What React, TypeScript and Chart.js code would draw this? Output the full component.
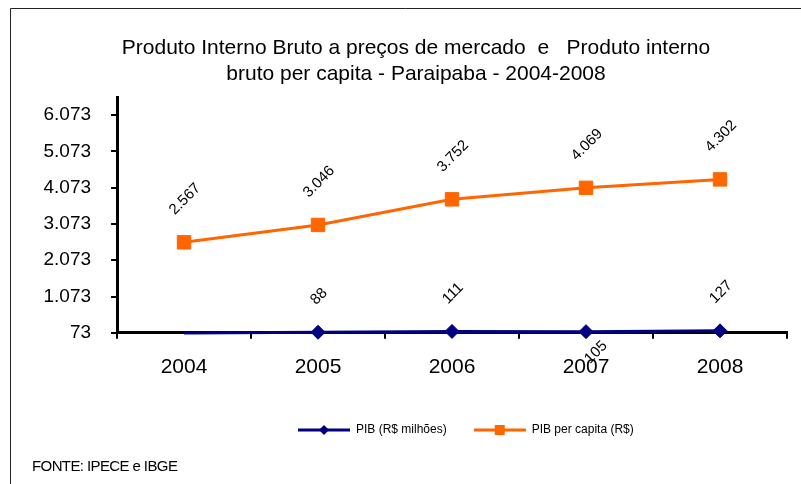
import React, { useEffect, useRef } from 'react';
import { Chart, registerables } from 'chart.js';

Chart.register(...registerables);

// ---- data ----
const years = ['2004', '2005', '2006', '2007', '2008'];
const pibMilhoes = [70, 88, 111, 105, 127];
const pibPerCapita = [2567, 3046, 3752, 4069, 4302];
const yTickValues = [73, 1073, 2073, 3073, 4073, 5073, 6073];
const yMin = 73;
const yMax = 6573;
const titleLines = [
  'Produto Interno Bruto a preços de mercado  e   Produto interno',
  'bruto per capita - Paraipaba - 2004-2008',
];
const seriesNames = ['PIB (R$ milhões)', 'PIB per capita (R$)'];
const pibLabelBelow = [false, false, false, true, false];
const sourceNote = 'FONTE: IPECE e IBGE';

const FONT = '"Liberation Sans", Arial, sans-serif';
const BLUE = '#000080';
const ORANGE = '#FF6600';

const fmt = (n: number) => String(n).replace(/\B(?=(\d{3})+(?!\d))/g, '.');

function legendSymbol(color: string, shape: 'diamond' | 'square') {
  const c = document.createElement('canvas');
  c.width = 52;
  c.height = 14;
  const ctx = c.getContext('2d')!;
  ctx.strokeStyle = color;
  ctx.lineWidth = 3;
  ctx.beginPath();
  ctx.moveTo(0, 7);
  ctx.lineTo(52, 7);
  ctx.stroke();
  ctx.fillStyle = color;
  if (shape === 'diamond') {
    ctx.beginPath();
    ctx.moveTo(26, 2);
    ctx.lineTo(31, 7);
    ctx.lineTo(26, 12);
    ctx.lineTo(21, 7);
    ctx.closePath();
    ctx.fill();
  } else {
    ctx.fillRect(21, 2, 10, 10);
  }
  return c;
}

const decorPlugin = {
  id: 'decor',
  afterLayout(chart: any) {
    const lg = chart.legend;
    if (lg && lg.lineWidths) {
      const pad = lg.options.labels.padding;
      const start = (lg.left + pad + lg.right - lg.lineWidths[0]) / 2;
      const dx = 298 - start;
      const dy = 430 - (lg.top + pad + 6);
      lg.left += dx;
      lg.right += dx;
      lg.top += dy;
      lg.bottom += dy;
    }
    const tb = chart.titleBlock;
    if (tb) {
      const dx = 416 - (tb.left + tb.right) / 2;
      tb.left += dx;
      tb.right += dx;
    }
  },
  beforeDraw(chart: any) {
    const ctx = chart.ctx;
    ctx.save();
    ctx.fillStyle = '#ffffff';
    ctx.fillRect(0, 0, chart.width, chart.height);
    ctx.strokeStyle = '#222';
    ctx.lineWidth = 1;
    ctx.beginPath();
    ctx.moveTo(801, 8.5);
    ctx.lineTo(10.5, 8.5);
    ctx.lineTo(10.5, 484);
    ctx.stroke();
    ctx.restore();
  },
  afterDatasetsDraw(chart: any) {
    const ctx = chart.ctx;
    ctx.save();
    ctx.font = `15px ${FONT}`;
    ctx.fillStyle = '#000';
    ctx.textAlign = 'center';
    ctx.textBaseline = 'middle';
    chart.data.datasets.forEach((ds: any, di: number) => {
      const meta = chart.getDatasetMeta(di);
      meta.data.forEach((pt: any, j: number) => {
        const v = ds.data[j];
        if (v < yMin) return;
        const text = fmt(v);
        const L = ctx.measureText(text).width;
        const ext = (L / 2 + 5.5) * Math.SQRT1_2;
        const below = di === 0 && pibLabelBelow[j];
        const cx = below ? pt.x + 10 : pt.x + 1;
        const cy = below ? pt.y + 8 + ext : pt.y - 26 - ext;
        ctx.save();
        ctx.translate(cx, cy);
        ctx.rotate(-Math.PI / 4);
        ctx.fillText(text, 0, 0);
        ctx.restore();
      });
    });
    ctx.restore();
  },
  afterDraw(chart: any) {
    const ctx = chart.ctx;
    ctx.save();
    ctx.font = `15px ${FONT}`;
    ctx.fillStyle = '#000';
    ctx.textAlign = 'left';
    ctx.textBaseline = 'alphabetic';
    try {
      ctx.letterSpacing = '-0.6px';
    } catch (e) {}
    ctx.fillText(sourceNote, 32, 471);
    ctx.restore();
  },
};

export default function App() {
  const ref = useRef<HTMLCanvasElement | null>(null);

  useEffect(() => {
    if (!ref.current) return;
    Chart.defaults.font.family = FONT;
    Chart.defaults.color = '#000';
    const symbols = [legendSymbol(BLUE, 'diamond'), legendSymbol(ORANGE, 'square')];
    const chart = new Chart(ref.current, {
      type: 'line',
      data: {
        labels: years,
        datasets: [
          {
            label: seriesNames[0],
            data: pibMilhoes,
            borderColor: BLUE,
            backgroundColor: BLUE,
            borderWidth: 3,
            pointStyle: 'rectRot',
            pointRadius: pibMilhoes.map((v) => (v < yMin ? 0 : 7)),
            pointBorderWidth: 1,
            tension: 0,
            clip: false,
          },
          {
            label: seriesNames[1],
            data: pibPerCapita,
            borderColor: ORANGE,
            backgroundColor: ORANGE,
            borderWidth: 3,
            pointStyle: 'rect',
            pointRadius: 9.5,
            pointBorderWidth: 1,
            tension: 0,
            clip: false,
          },
        ],
      },
      options: {
        responsive: false,
        animation: false,
        layout: { padding: { left: 23.5, right: 14, top: 0, bottom: 39 } },
        plugins: {
          tooltip: { enabled: false },
          title: {
            display: true,
            text: titleLines,
            color: '#000',
            font: { size: 21, weight: 'normal', family: FONT, lineHeight: 26 / 21 },
            padding: { top: 35, bottom: 10 },
          },
          legend: {
            display: true,
            position: 'bottom',
            labels: {
              usePointStyle: true,
              pointStyleWidth: 52,
              padding: 27,
              color: '#000',
              font: { size: 12, family: FONT },
              generateLabels: () =>
                seriesNames.map((name, i) => ({
                  text: name,
                  pointStyle: symbols[i],
                  fillStyle: i === 0 ? BLUE : ORANGE,
                  strokeStyle: i === 0 ? BLUE : ORANGE,
                  lineWidth: 0,
                  hidden: false,
                  datasetIndex: i,
                  fontColor: '#000',
                })),
            },
          },
        },
        scales: {
          x: {
            offset: true,
            grid: {
              drawOnChartArea: false,
              drawTicks: true,
              tickLength: 6,
              color: '#000',
              lineWidth: 2,
              offset: true,
            },
            border: { display: true, color: '#000', width: 3 },
            ticks: { font: { size: 21, family: FONT }, color: '#000', padding: 16 },
          },
          y: {
            min: yMin,
            max: yMax,
            afterBuildTicks: (scale: any) => {
              scale.ticks = yTickValues.map((v) => ({ value: v }));
            },
            grid: {
              drawOnChartArea: false,
              drawTicks: true,
              tickLength: 6,
              color: '#000',
              lineWidth: 2,
            },
            border: { display: true, color: '#000', width: 3 },
            ticks: {
              font: { size: 19, family: FONT },
              color: '#000',
              padding: 20,
              callback: (v: any) => fmt(Number(v)),
            },
          },
        },
      },
      plugins: [decorPlugin],
    });
    return () => chart.destroy();
  }, []);

  return (
    <div style={{ position: 'absolute', left: 0, top: 0, width: 801, height: 484, background: '#fff' }}>
      <canvas ref={ref} width={801} height={484} style={{ display: 'block' }} />
    </div>
  );
}
